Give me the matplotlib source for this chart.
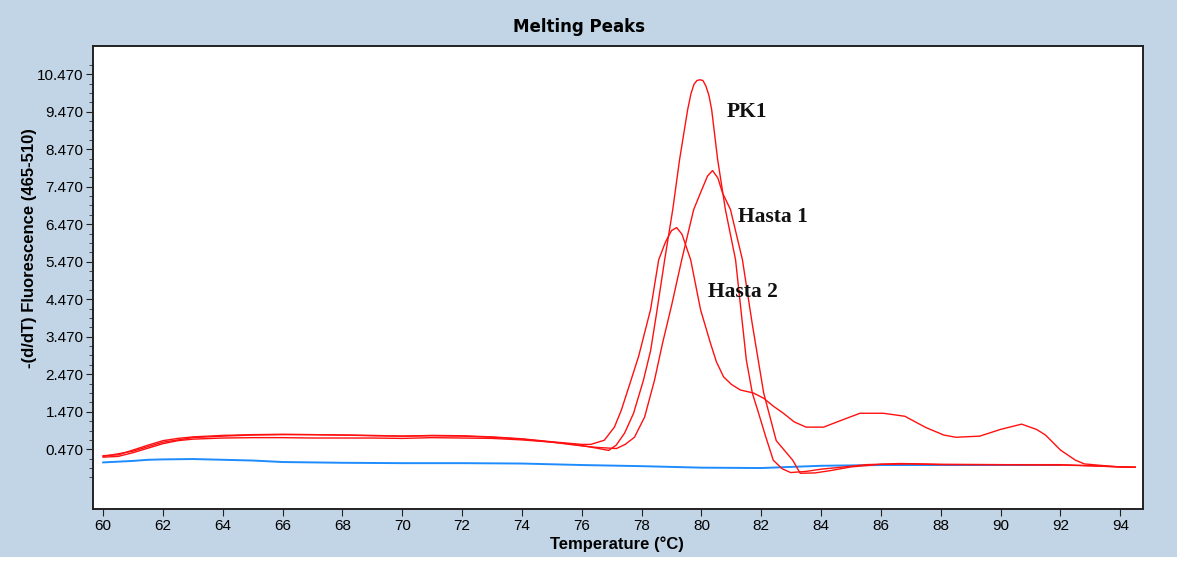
import numpy as np
import matplotlib
matplotlib.use("Agg")
import matplotlib.pyplot as plt
from matplotlib.patches import Rectangle
from matplotlib.ticker import FixedLocator

# Melting curve derivative values
pk1_t = [60.0, 60.5, 61.0, 61.5, 62.0, 62.5, 63.0, 64.0, 65.0, 66.0, 67.0, 68.0,
         69.0, 70.0, 71.0, 72.0, 73.0, 74.0, 75.0, 75.5, 76.0, 76.5, 76.9, 77.15,
         77.43, 77.73, 78.06, 78.3, 78.5, 78.77, 79.04, 79.27, 79.54, 79.65, 79.75,
         79.85, 79.95, 80.05, 80.15, 80.25, 80.34, 80.54, 80.8, 81.14, 81.5, 81.7,
         81.88, 82.15, 82.4, 82.7, 82.98, 83.5, 84.0, 84.65, 85.5, 86.65, 88.0,
         90.0, 92.0, 93.0, 94.0, 94.5]
pk1_v = [0.30, 0.32, 0.45, 0.58, 0.70, 0.76, 0.80, 0.84, 0.86, 0.87, 0.86, 0.85,
         0.83, 0.82, 0.83, 0.82, 0.79, 0.74, 0.66, 0.62, 0.57, 0.50, 0.44, 0.58,
         0.90, 1.43, 2.31, 3.10, 4.10, 5.52, 6.86, 8.20, 9.53, 9.95, 10.20,
         10.30, 10.32, 10.30, 10.15, 9.90, 9.53, 8.20, 6.86, 5.52, 2.85, 1.97,
         1.51, 0.80, 0.18, -0.05, -0.15, -0.12, -0.06, -0.01, 0.06, 0.09, 0.07,
         0.06, 0.05, 0.03, 0.00, -0.01]

hasta1_t = [60.0, 60.5, 61.0, 61.5, 62.0, 62.5, 63.0, 64.0, 65.0, 66.0, 67.0, 68.0,
            69.0, 70.0, 71.0, 72.0, 73.0, 74.0, 75.0, 76.0, 76.5, 77.16, 77.45,
            77.76, 78.1, 78.43, 78.7, 79.0, 79.34, 79.74, 79.97, 80.2, 80.37, 80.55,
            80.7, 80.97, 81.37, 81.7, 82.08, 82.5, 83.05, 83.3, 83.8, 84.3, 85.0,
            86.0, 87.0, 88.0, 90.0, 92.0, 93.0, 94.0, 94.5]
hasta1_v = [0.26, 0.28, 0.38, 0.50, 0.62, 0.70, 0.74, 0.77, 0.78, 0.78, 0.77, 0.77,
            0.77, 0.76, 0.78, 0.77, 0.76, 0.72, 0.66, 0.56, 0.52, 0.49, 0.60,
            0.79, 1.33, 2.31, 3.30, 4.30, 5.52, 6.86, 7.31, 7.75, 7.90, 7.70,
            7.31, 6.86, 5.52, 3.80, 1.97, 0.70, 0.18, -0.17, -0.16, -0.10, 0.00,
            0.07, 0.08, 0.06, 0.06, 0.06, 0.03, 0.00, -0.01]

hasta2_t = [60.0, 61.0, 62.0, 63.0, 64.0, 65.0, 66.0, 67.0, 68.0, 69.0, 70.0, 71.0,
            72.0, 73.0, 74.0, 75.0, 76.0, 76.3, 76.75, 77.09, 77.32, 77.6, 77.9,
            78.3, 78.57, 78.8, 79.0, 79.17, 79.35, 79.64, 79.97, 80.3, 80.5, 80.74,
            81.0, 81.3, 81.74, 82.08, 82.4, 82.74, 83.1, 83.5, 84.08, 84.7, 85.3,
            86.08, 86.8, 87.5, 88.1, 88.5, 89.3, 90.0, 90.7, 91.2, 91.5, 92.0, 92.5,
            92.8, 93.5, 94.0, 94.5]
hasta2_v = [0.28, 0.42, 0.66, 0.78, 0.82, 0.85, 0.86, 0.86, 0.85, 0.84, 0.82, 0.84,
            0.83, 0.80, 0.75, 0.67, 0.60, 0.60, 0.71, 1.06, 1.51, 2.20, 2.95,
            4.20, 5.52, 6.00, 6.30, 6.38, 6.20, 5.52, 4.19, 3.30, 2.80, 2.40,
            2.20, 2.05, 1.97, 1.83, 1.62, 1.43, 1.20, 1.06, 1.06, 1.25, 1.43,
            1.43, 1.35, 1.05, 0.85, 0.79, 0.82, 1.00, 1.14, 1.00, 0.85, 0.45, 0.18,
            0.08, 0.03, 0.00, -0.01]

neg_t = [60.0, 60.5, 61.0, 61.5, 62.0, 63.0, 64.0, 65.0, 66.0, 67.0, 68.0, 70.0,
         72.0, 74.0, 75.0, 76.0, 78.0, 80.0, 82.0, 83.0, 84.0, 86.0, 88.0, 90.0, 92.0]
neg_v = [0.12, 0.14, 0.16, 0.19, 0.20, 0.21, 0.19, 0.17, 0.13, 0.12, 0.11, 0.10,
         0.10, 0.09, 0.07, 0.05, 0.02, -0.02, -0.03, 0.00, 0.03, 0.05, 0.05, 0.05, 0.05]

x_ticks = list(range(60, 95, 2))
y_ticks = [0.47, 1.47, 2.47, 3.47, 4.47, 5.47, 6.47, 7.47, 8.47, 9.47, 10.47]
labels = ["PK1", "Hasta 1", "Hasta 2"]

# label anchor points (data coords)
label_pos = {"PK1": (80.84, 9.45), "Hasta 1": (81.21, 6.65), "Hasta 2": (80.21, 4.65)}

bg = "#C2D5E6"
W, H = 1185, 563
fig = plt.figure(figsize=(W / 100, H / 100), dpi=100, facecolor="white")
fig.patches.append(Rectangle((0, 6 / H), 1177 / W, 1 - 6 / H,
                             transform=fig.transFigure, facecolor=bg,
                             edgecolor="none", zorder=-10))

ax = fig.add_axes([93.3 / W, 1 - 509.3 / H, (1143 - 93.3) / W, (509.3 - 46) / H])
ax.set_facecolor("white")

ax.plot(neg_t, neg_v, color="#1E8CFF", lw=1.4)
ax.plot(hasta2_t, hasta2_v, color="#FF1010", lw=1.0)
ax.plot(hasta1_t, hasta1_v, color="#FF1010", lw=1.0)
ax.plot(pk1_t, pk1_v, color="#FF1010", lw=1.0)

ax.set_xlim(59.67, 94.76)
ax.set_ylim(-1.13, 11.22)

ax.set_xticks(x_ticks)
ax.set_yticks(y_ticks)
ax.set_yticklabels(["%.3f" % v for v in y_ticks])
ax.yaxis.set_minor_locator(FixedLocator(np.arange(-0.28, 10.8, 0.25)))
ax.tick_params(axis="both", which="major", direction="out", length=5, width=0.8,
               labelsize=11, colors="#222222", pad=2)
ax.tick_params(axis="y", which="minor", direction="out", length=3, width=0.7, colors="#444444")
for lab in ax.get_xticklabels() + ax.get_yticklabels():
    lab.set_family("Liberation Sans")
    lab.set_color("black")

for s in ax.spines.values():
    s.set_color("#222222")
    s.set_linewidth(1.4)

for name in labels:
    x, y = label_pos[name]
    ax.text(x, y, name, ha="left", va="center", fontsize=15.5, fontweight="bold",
            family="Liberation Serif", color="#111111")

fig.text(579 / W, 1 - 27 / H, "Melting Peaks", ha="center", va="center",
         fontsize=12, fontweight="bold", family="DejaVu Sans")
fig.text(617 / W, 1 - 544 / H, "Temperature (°C)", ha="center", va="center",
         fontsize=12, fontweight="bold", family="Liberation Sans")
fig.text(30 / W, 1 - 248 / H, "-(d/dT) Fluorescence (465-510)", ha="center", va="center",
         rotation=90, fontsize=12, fontweight="bold", family="Liberation Sans")

fig.savefig("out.png", dpi=100, facecolor=fig.get_facecolor())
